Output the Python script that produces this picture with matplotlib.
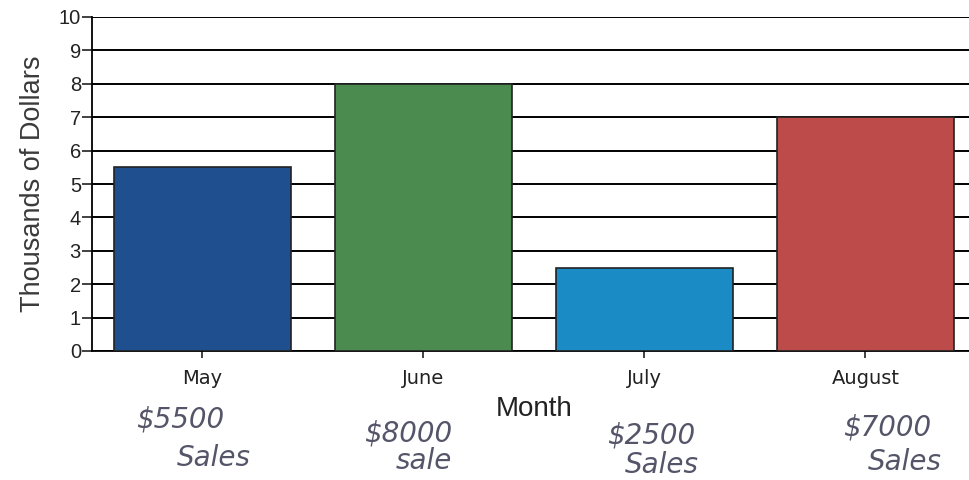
import matplotlib
matplotlib.use("Agg")
import matplotlib.pyplot as plt
import matplotlib.transforms as mtransforms

months = ["May", "June", "July", "August"]
values = [5.5, 8.0, 2.5, 7.0]
colors = ["#1f4f8e", "#4b8b4f", "#1b8bc6", "#bd4b49"]
note_amounts = ["$5500", "$8000", "$2500", "$7000"]
note_words = ["Sales", "sale", "Sales", "Sales"]
yticks = list(range(0, 11))

fig = plt.figure(figsize=(9.7, 4.8), dpi=100)
ax = fig.add_axes([92/970, 1-351/480, 884/970, 334/480])

x = list(range(len(months)))
ax.set_axisbelow(True)
ax.yaxis.grid(True, color="black", linewidth=1.4)
ax.bar(x, values, width=0.8, color=colors, edgecolor="#222222", linewidth=1.2, zorder=3)

ax.set_xlim(-0.5, 3.5)
ax.set_ylim(0, 10)
ax.set_yticks(yticks)
ax.set_yticklabels([str(t) for t in yticks], fontsize=14.5, family="Liberation Sans", color="#222222")
ax.set_xticks(x)
ax.set_xticklabels(months, fontsize=14, family="DejaVu Sans", color="#222222")
ax.tick_params(axis="y", length=7, width=1.3, color="#333333", pad=1)
ax.tick_params(axis="x", length=5, width=1.3, color="#333333", pad=8)

for s in ["top", "right"]:
    ax.spines[s].set_visible(False)
ax.spines["left"].set_linewidth(1.3)
ax.spines["bottom"].set_linewidth(1.3)

ax.set_ylabel("Thousands of Dollars", fontsize=19.5, family="Liberation Sans",
              color="#3a3a3a", labelpad=9)
ax.set_xlabel("Month", fontsize=20, family="Liberation Sans", color="#222222", labelpad=6)

trans = mtransforms.blended_transform_factory(ax.transData, fig.transFigure)
amt_y = [1-420/480, 1-433/480, 1-436/480, 1-428/480]
word_y = [1-458/480, 1-461/480, 1-465/480, 1-462/480]
amt_dx = [-0.1, -0.07, 0.03, 0.1]
word_dx = [0.05, 0.0, 0.08, 0.18]
for i in range(len(months)):
    ax.text(x[i] + amt_dx[i], amt_y[i], note_amounts[i], transform=trans,
            ha="center", va="center", fontsize=20, style="italic",
            color="#55556a", family="DejaVu Sans", fontweight="light")
    ax.text(x[i] + word_dx[i], word_y[i], note_words[i], transform=trans,
            ha="center", va="center", fontsize=20, style="italic",
            color="#55556a", family="DejaVu Sans")

fig.savefig("out.png", dpi=100)
